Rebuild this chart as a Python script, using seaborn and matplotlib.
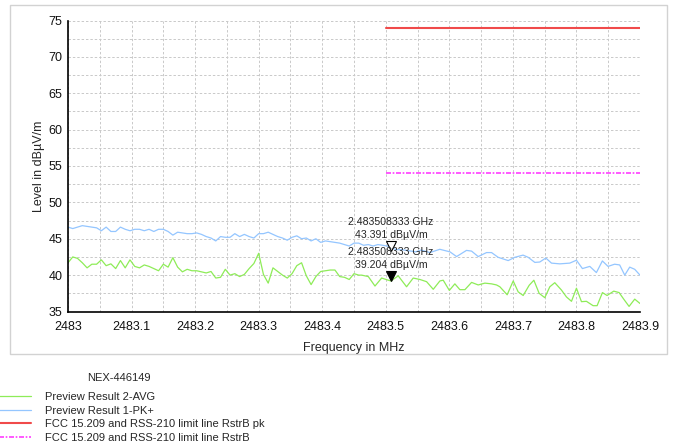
import matplotlib
matplotlib.use("Agg")
import matplotlib.pyplot as plt
import seaborn as sns
from matplotlib import transforms
from matplotlib.ticker import FixedLocator, FixedFormatter
from matplotlib.patches import Rectangle

# ---------------- data ----------------
pk_freq = [2483.0, 2483.0075, 2483.015, 2483.0225, 2483.03, 2483.0375, 2483.045, 2483.0525,
           2483.06, 2483.0675, 2483.075, 2483.0825, 2483.09, 2483.0975, 2483.105, 2483.1125,
           2483.12, 2483.1275, 2483.135, 2483.1425, 2483.15, 2483.1575, 2483.165, 2483.1725,
           2483.18, 2483.1875, 2483.195, 2483.2025, 2483.21, 2483.2175, 2483.225, 2483.2325,
           2483.24, 2483.2475, 2483.255, 2483.2625, 2483.27, 2483.2775, 2483.285, 2483.2925,
           2483.3, 2483.3075, 2483.315, 2483.3225, 2483.33, 2483.3375, 2483.345, 2483.3525,
           2483.36, 2483.3675, 2483.375, 2483.3825, 2483.39, 2483.3975, 2483.405, 2483.4125,
           2483.42, 2483.4275, 2483.435, 2483.4425, 2483.45, 2483.4575, 2483.465, 2483.4725,
           2483.48, 2483.4875, 2483.495, 2483.5025, 2483.51, 2483.5175, 2483.525, 2483.5325,
           2483.54, 2483.5475, 2483.5555, 2483.5694, 2483.585, 2483.601, 2483.6114, 2483.627,
           2483.635, 2483.6454, 2483.6585, 2483.6664, 2483.6768, 2483.6926, 2483.703, 2483.716,
           2483.724, 2483.7345, 2483.7423, 2483.7518, 2483.7607, 2483.7738, 2483.7895, 2483.80,
           2483.8094, 2483.821, 2483.8314, 2483.8408, 2483.8497, 2483.86, 2483.868, 2483.876,
           2483.8838, 2483.8917, 2483.90]
pk_level = [46.6, 46.4, 46.6, 46.8, 46.7, 46.6, 46.5, 46.1,
            46.6, 46.0, 46.0, 46.6, 46.3, 46.1, 46.3, 46.3,
            46.1, 46.3, 46.0, 46.3, 46.3, 46.0, 45.5, 45.9,
            45.8, 45.7, 45.7, 45.8, 45.6, 45.3, 45.1, 44.7,
            45.3, 45.2, 45.2, 45.7, 45.3, 45.6, 45.3, 45.1,
            45.7, 45.7, 45.9, 45.6, 45.3, 45.1, 44.8, 45.2,
            45.4, 45.0, 45.1, 44.7, 45.0, 44.5, 44.7, 44.6,
            44.5, 44.4, 44.2, 44.0, 44.4, 44.4, 44.1, 44.2,
            44.0, 44.2, 44.1, 44.0, 43.7, 43.5, 43.5, 43.4,
            43.3, 43.2, 43.45, 43.1, 43.55, 43.2, 42.55, 43.4,
            43.3, 42.55, 43.1, 43.1, 42.45, 42.0, 42.45, 42.75,
            42.45, 41.75, 41.8, 42.35, 41.65, 41.55, 41.65, 42.05,
            40.9, 41.2, 40.35, 41.95, 41.2, 41.5, 41.4, 40.0,
            41.1, 40.8, 40.0]

avg_freq = [2483.0, 2483.0075, 2483.015, 2483.0225, 2483.03, 2483.0375, 2483.045, 2483.0525,
            2483.06, 2483.0675, 2483.075, 2483.0825, 2483.09, 2483.0975, 2483.105, 2483.1125,
            2483.12, 2483.1275, 2483.135, 2483.1425, 2483.15, 2483.1575, 2483.165, 2483.1725,
            2483.18, 2483.1875, 2483.195, 2483.2025, 2483.21, 2483.2175, 2483.225, 2483.2325,
            2483.24, 2483.2475, 2483.255, 2483.2625, 2483.27, 2483.2775, 2483.285, 2483.2925,
            2483.3, 2483.3075, 2483.315, 2483.3225, 2483.33, 2483.3375, 2483.345, 2483.3525,
            2483.36, 2483.3675, 2483.375, 2483.3825, 2483.39, 2483.3975, 2483.405, 2483.4125,
            2483.42, 2483.4275, 2483.435, 2483.4425, 2483.45, 2483.4575, 2483.462, 2483.4725,
            2483.483, 2483.4935, 2483.504, 2483.5083, 2483.5196, 2483.5327, 2483.5432, 2483.5537,
            2483.5642, 2483.5747, 2483.5851, 2483.5904, 2483.600, 2483.6087, 2483.6166, 2483.6245,
            2483.635, 2483.6454, 2483.6559, 2483.6664, 2483.6742, 2483.6795, 2483.691, 2483.7005,
            2483.7083, 2483.7162, 2483.7256, 2483.733, 2483.7413, 2483.7502, 2483.7581, 2483.7659,
            2483.7764, 2483.7843, 2483.7922, 2483.80, 2483.8079, 2483.8157, 2483.8262, 2483.8325,
            2483.8409, 2483.8482, 2483.8587, 2483.8671, 2483.8744, 2483.8828, 2483.8917, 2483.90]
avg_level = [41.7, 42.5, 42.3, 41.7, 41.0, 41.5, 41.5, 42.1,
             41.3, 41.55, 40.9, 42.0, 41.0, 42.1, 41.2, 41.0,
             41.4, 41.2, 40.9, 40.6, 41.5, 41.1, 42.4, 41.1,
             40.45, 40.8, 40.6, 40.6, 40.45, 40.3, 40.5, 39.6,
             39.7, 40.8, 40.0, 40.2, 39.8, 40.1, 40.9, 41.6,
             43.0, 40.1, 38.9, 41.0, 40.5, 40.0, 39.6, 40.2,
             41.3, 41.7, 39.9, 38.7, 39.8, 40.5, 40.6, 40.7,
             40.7, 39.8, 39.7, 39.4, 40.2, 40.0, 40.0, 39.8,
             38.5, 39.6, 39.3, 39.2, 39.9, 38.4, 39.6, 39.4,
             39.1, 38.05, 39.2, 39.3, 37.9, 38.8, 38.0, 38.0,
             39.0, 38.65, 38.9, 38.8, 38.65, 38.4, 37.3, 39.2,
             37.7, 37.2, 38.6, 39.3, 37.5, 36.9, 38.4, 38.96,
             37.95, 37.0, 36.4, 38.2, 36.35, 36.4, 35.8, 35.8,
             37.6, 37.2, 37.8, 37.6, 36.7, 35.7, 36.7, 36.1]

limit_freq = [2483.5, 2483.9]
limit_pk_level = [74, 74]
limit_av_level = [54, 54]

marker_freq = 2483.508333
marker_label = "2.483508333"
marker_pk = 43.391
marker_av = 39.204

series_labels = ["Preview Result 2-AVG", "Preview Result 1-PK+",
                 "FCC 15.209 and RSS-210 limit line RstrB pk",
                 "FCC 15.209 and RSS-210 limit line RstrB"]
legend_title = "NEX-446149"

xticks = [2483.0, 2483.1, 2483.2, 2483.3, 2483.4, 2483.5, 2483.6, 2483.7, 2483.8, 2483.9]
xtick_labels = ["2483", "2483.1", "2483.2", "2483.3", "2483.4", "2483.5", "2483.6",
                "2483.7", "2483.8", "2483.9"]
xminor = [2483.05, 2483.15, 2483.25, 2483.35, 2483.45, 2483.55, 2483.65, 2483.75, 2483.85]
yticks = [35, 40, 45, 50, 55, 60, 65, 70, 75]
yminor = [37.5, 42.5, 47.5, 52.5, 57.5, 62.5, 67.5, 72.5]

# ---------------- style ----------------
sns.set_style("white")
plt.rcParams['font.family'] = ['Liberation Sans', 'DejaVu Sans']

C_AVG = "#8eec58"
C_PK = "#94c6ff"
C_LPK = "#f04a4a"
C_LAV = "#ff3cff"

W, H = 673, 445
fig = plt.figure(figsize=(W / 100, H / 100), dpi=100)
ax = fig.add_axes([68 / W, 1 - 311.5 / H, 572 / W, 291 / H])

fig.add_artist(Rectangle((10 / W, 1 - 354 / H), 657 / W, 349 / H, transform=fig.transFigure,
                         fill=False, ec="#d2d2d2", lw=1.0))

sns.lineplot(x=avg_freq, y=avg_level, ax=ax, color=C_AVG, lw=0.9, label=series_labels[0],
             sort=False, estimator=None)
sns.lineplot(x=pk_freq, y=pk_level, ax=ax, color=C_PK, lw=0.9, label=series_labels[1],
             sort=False, estimator=None)
sns.lineplot(x=limit_freq, y=limit_pk_level, ax=ax, color=C_LPK, lw=1.5, label=series_labels[2],
             sort=False, estimator=None)
sns.lineplot(x=limit_freq, y=limit_av_level, ax=ax, color=C_LAV, lw=1.2, label=series_labels[3],
             sort=False, estimator=None, dashes=False)
ax.lines[-1].set_dashes((3, 1, 1, 1))

# markers (tip at data point)
off = transforms.offset_copy(ax.transData, fig=fig, x=0, y=3.4, units='points')
ax.plot([marker_freq], [marker_pk], marker='v', ms=7, mfc='white', mec='black', mew=0.8,
        ls='none', transform=off, zorder=5)
ax.plot([marker_freq], [marker_av], marker='v', ms=7, mfc='black', mec='black', mew=0.8,
        ls='none', transform=off, zorder=5)
for val in (marker_pk, marker_av):
    ax.annotate(f"{marker_label} GHz\n{val:.3f} dBµV/m", xy=(marker_freq, val),
                xytext=(0, 7.5), textcoords='offset points', ha='center', va='bottom',
                fontsize=7.6, linespacing=1.4, zorder=6)

ax.set_xlim(2483.0, 2483.9)
ax.set_ylim(35, 75)
ax.xaxis.set_major_locator(FixedLocator(xticks))
ax.xaxis.set_major_formatter(FixedFormatter(xtick_labels))
ax.xaxis.set_minor_locator(FixedLocator(xminor))
ax.yaxis.set_major_locator(FixedLocator(yticks))
ax.yaxis.set_minor_locator(FixedLocator(yminor))

ax.grid(True, which='both', color='#c9c9c9', ls=(0, (2.5, 2)), lw=0.7)
ax.set_axisbelow(True)
for s in ('top', 'right'):
    ax.spines[s].set_visible(False)
for s in ('left', 'bottom'):
    ax.spines[s].set_color('black')
    ax.spines[s].set_linewidth(1.2)

ax.tick_params(axis='both', which='both', direction='inout', length=3.8, width=1,
               color='black', labelsize=9, labelcolor='#111111')
ax.tick_params(axis='x', which='both', pad=5)
ax.tick_params(axis='y', which='both', pad=2)

ax.set_xlabel("Frequency in MHz", fontsize=9)
ax.set_ylabel("Level in dBµV/m", fontsize=9)
ax.xaxis.set_label_coords(0.5, -(342 - 311.5) / 291)
ax.yaxis.set_label_coords((45 - 68) / 572, 0.5)

# legend below the frame
handles, labels = ax.get_legend_handles_labels()
ax.get_legend().remove()
fig.legend(handles, labels, loc='upper left', bbox_to_anchor=(-1 / W, 1 - 392 / H),
           bbox_transform=fig.transFigure, frameon=False, fontsize=8, borderpad=0,
           borderaxespad=0, handlelength=2.9, handletextpad=1.25, labelspacing=0.33)
fig.text(119 / W, 1 - 378 / H, legend_title, ha='center', va='center', fontsize=8)

fig.savefig("out.png", dpi=100)
